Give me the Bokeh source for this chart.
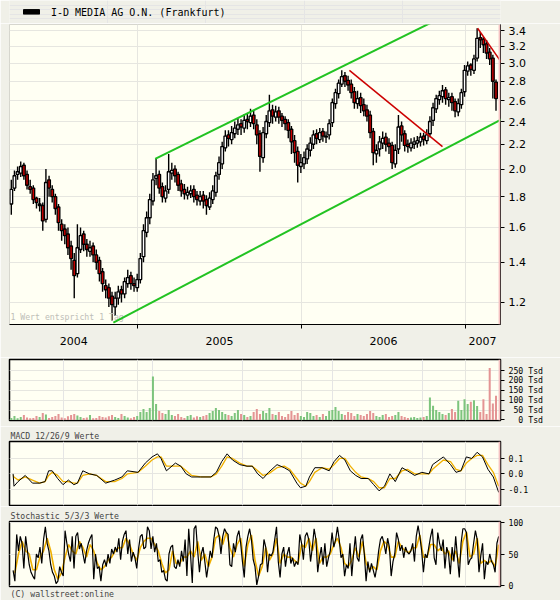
import numpy as np
from bokeh.plotting import figure
from bokeh.layouts import column
from bokeh.models import (Range1d, FixedTicker, CustomJSTickFormatter, Grid, Span, Label,
                          Legend, LegendItem, Arrow, Title, ColumnDataSource)
from bokeh.core.properties import value
from bokeh.embed import file_html
from bokeh.resources import INLINE

# ---------------- data (x = days since 2004-01-01) ----------------
title_text = "I-D MEDIA AG O.N. (Frankfurt)"
year_starts = [366, 731, 1096]
year_label_pos = [224, 548, 913, 1133]
year_labels = ["2004", "2005", "2006", "2007"]
price_ticks = [1.2, 1.4, 1.6, 1.8, 2.0, 2.2, 2.4, 2.6, 2.8, 3.0, 3.2, 3.4]
vol_ticks = [0, 50, 100, 150, 200, 250]
macd_ticks = [-0.1, 0.0, 0.1]
stoch_ticks = [0, 50, 100]

first_week_day = 85
open_ = [1.75,1.86,1.96,1.97,2.03,1.96,1.87,1.86,1.79,1.74,
         1.74,1.65,1.92,1.85,1.80,1.73,1.62,1.59,1.56,1.49,
         1.41,1.34,1.47,1.56,1.50,1.46,1.49,1.44,1.41,1.35,
         1.28,1.27,1.23,1.18,1.22,1.26,1.24,1.29,1.33,1.29,
         1.27,1.31,1.43,1.57,1.66,1.77,1.93,1.96,1.87,1.79,
         1.85,1.97,2.00,1.96,1.89,1.85,1.81,1.82,1.85,1.81,
         1.77,1.81,1.78,1.73,1.78,1.83,1.96,2.04,2.17,2.28,
         2.24,2.29,2.33,2.38,2.34,2.42,2.39,2.46,2.37,2.29,
         2.09,2.29,2.39,2.51,2.44,2.50,2.45,2.42,2.39,2.33,
         2.23,2.14,2.02,2.04,2.08,2.15,2.20,2.29,2.24,2.31,
         2.26,2.28,2.39,2.57,2.67,2.77,2.86,2.81,2.77,2.69,
         2.57,2.63,2.56,2.51,2.46,2.31,2.12,2.16,2.21,2.26,
         2.21,2.19,2.04,2.16,2.36,2.29,2.20,2.17,2.20,2.21,
         2.22,2.27,2.23,2.29,2.41,2.52,2.61,2.64,2.71,2.61,
         2.64,2.59,2.49,2.56,2.69,2.91,2.98,2.92,3.06,3.31,
         3.29,3.23,3.13,3.06,2.79]
close = [1.85,1.95,1.98,2.02,1.95,1.88,1.85,1.78,1.76,1.75,
         1.64,1.90,1.86,1.80,1.72,1.63,1.58,1.55,1.48,1.42,
         1.33,1.48,1.55,1.50,1.47,1.48,1.44,1.40,1.34,1.29,
         1.26,1.22,1.19,1.22,1.25,1.24,1.30,1.32,1.29,1.28,
         1.31,1.42,1.58,1.66,1.78,1.92,1.95,1.86,1.80,1.84,
         1.98,1.99,1.95,1.88,1.84,1.82,1.83,1.84,1.80,1.78,
         1.80,1.77,1.74,1.79,1.84,1.95,2.05,2.18,2.27,2.25,
         2.30,2.34,2.37,2.35,2.41,2.40,2.45,2.38,2.28,2.10,
         2.30,2.40,2.50,2.45,2.49,2.44,2.41,2.38,2.32,2.22,
         2.13,2.03,2.05,2.09,2.16,2.21,2.28,2.25,2.30,2.27,
         2.27,2.38,2.58,2.68,2.78,2.85,2.80,2.76,2.68,2.58,
         2.62,2.55,2.50,2.45,2.30,2.13,2.15,2.22,2.25,2.20,
         2.18,2.05,2.15,2.35,2.28,2.19,2.18,2.21,2.22,2.23,
         2.26,2.24,2.28,2.40,2.53,2.62,2.65,2.70,2.62,2.63,
         2.58,2.50,2.57,2.68,2.92,2.97,2.93,3.05,3.30,3.28,
         3.22,3.12,3.05,2.80,2.62]
high = [1.92,1.99,2.02,2.06,2.05,1.99,1.92,1.88,1.80,1.79,
        1.76,2.00,1.95,1.88,1.82,1.75,1.65,1.62,1.60,1.52,
        1.45,1.62,1.60,1.58,1.53,1.52,1.51,1.47,1.43,1.37,
        1.31,1.29,1.25,1.25,1.28,1.28,1.32,1.36,1.35,1.32,
        1.34,1.45,1.62,1.70,1.82,1.97,2.08,1.99,1.90,1.88,
        2.12,2.05,2.03,1.98,1.92,1.89,1.87,1.88,1.88,1.84,
        1.84,1.84,1.81,1.83,1.88,1.98,2.10,2.22,2.32,2.32,
        2.36,2.40,2.43,2.42,2.47,2.48,2.52,2.50,2.42,2.32,
        2.35,2.46,2.66,2.56,2.55,2.54,2.48,2.45,2.42,2.36,
        2.28,2.18,2.12,2.14,2.20,2.26,2.32,2.33,2.34,2.34,
        2.31,2.42,2.62,2.72,2.82,2.92,2.90,2.86,2.82,2.74,
        2.70,2.68,2.62,2.56,2.50,2.34,2.20,2.27,2.31,2.30,
        2.25,2.22,2.20,2.46,2.40,2.32,2.24,2.25,2.26,2.27,
        2.30,2.30,2.33,2.45,2.58,2.66,2.70,2.76,2.74,2.68,
        2.68,2.62,2.62,2.72,2.98,3.02,3.00,3.10,3.43,3.38,
        3.32,3.28,3.18,3.10,2.82]
low = [1.68,1.84,1.92,1.94,1.92,1.85,1.82,1.75,1.72,1.70,
       1.58,1.63,1.80,1.76,1.68,1.58,1.52,1.50,1.44,1.36,
       1.22,1.32,1.45,1.46,1.43,1.43,1.40,1.36,1.30,1.25,
       1.22,1.18,1.12,1.14,1.19,1.20,1.22,1.27,1.26,1.25,
       1.25,1.29,1.40,1.54,1.62,1.74,1.88,1.82,1.76,1.76,
       1.82,1.92,1.90,1.84,1.80,1.78,1.78,1.79,1.76,1.74,
       1.74,1.72,1.68,1.71,1.75,1.80,1.92,2.00,2.14,2.18,
       2.20,2.25,2.28,2.28,2.30,2.33,2.35,2.33,2.20,1.98,
       2.05,2.25,2.35,2.38,2.40,2.38,2.35,2.32,2.25,2.12,
       2.05,1.90,1.97,2.00,2.04,2.10,2.16,2.20,2.21,2.22,
       2.21,2.24,2.35,2.52,2.62,2.74,2.74,2.70,2.62,2.52,
       2.52,2.48,2.45,2.40,2.25,2.03,2.05,2.10,2.16,2.14,
       2.12,2.00,2.01,2.12,2.22,2.14,2.13,2.14,2.16,2.17,
       2.18,2.19,2.20,2.26,2.36,2.48,2.56,2.58,2.56,2.54,
       2.50,2.44,2.45,2.52,2.64,2.86,2.86,2.88,3.02,3.18,
       3.12,3.05,2.98,2.62,2.50]
volume = [10,20,8,15,25,12,8,10,20,15,
          35,28,10,15,20,30,12,8,18,25,
          30,22,15,10,12,25,8,10,20,15,
          12,18,25,15,10,30,20,12,8,15,
          20,40,55,40,60,220,80,45,35,30,
          50,25,20,30,15,10,20,25,12,18,
          15,20,25,35,45,60,50,40,30,25,
          20,35,50,30,25,15,20,40,55,30,
          45,35,60,30,25,40,20,15,30,45,
          25,35,20,15,40,35,20,25,15,30,
          20,45,50,65,45,30,25,40,35,20,
          30,25,20,30,45,35,20,15,25,30,
          15,20,25,40,20,15,10,12,15,10,
          12,15,20,113,72,50,40,30,25,35,
          55,40,97,50,105,80,92,100,70,40,
          105,30,263,83,122]

# trend lines (day, price)
channel_upper_x = [405, 1117]; channel_upper_y = [2.08, 3.81]
channel_lower_x = [312, 1306]; channel_lower_y = [1.111, 2.724]
trend1_x = [837, 1044]; trend1_y = [2.92, 2.18]
trend2_x = [1122, 1233]; trend2_y = [3.43, 2.61]

macd_days = [89,91,100,116,132,148,160,168,176,188,200,212,224,232,244,259,275,295,315,331,
             343,367,383,398,410,418,430,450,462,474,486,506,529,541,553,565,577,593,609,621,
             633,645,657,676,692,704,720,728,740,748,760,776,792,803,815,827,839,851,863,879,
             891,903,915,927,939,954,966,982,998,1014,1022,1046,1062,1074,1085,1097,1109,1121,1133,1145,
             1157,1169]
macd = [0.0,-0.08,-0.05,-0.01,-0.06,-0.06,-0.05,0.02,0.02,-0.03,
        -0.07,-0.04,-0.07,-0.06,0.02,0.0,-0.01,-0.06,-0.04,-0.02,
        0.02,0.01,0.07,0.11,0.13,0.10,0.02,0.07,0.05,0.0,
        -0.02,-0.02,-0.02,0.01,0.08,0.13,0.09,0.06,0.05,0.05,
        0.0,-0.03,0.01,0.06,0.04,0.02,-0.06,-0.09,-0.08,-0.02,
        0.04,0.04,0.02,0.08,0.12,0.09,0.02,-0.01,-0.03,-0.03,
        -0.07,-0.11,-0.08,0.0,-0.05,0.04,0.02,-0.01,0.01,0.0,
        0.06,0.11,0.06,0.01,0.02,0.11,0.10,0.14,0.11,0.03,
        -0.02,-0.12]
macd_signal = [-0.01,-0.02,-0.04,-0.02,-0.04,-0.06,-0.05,-0.01,0.01,-0.01,
               -0.05,-0.05,-0.06,-0.06,-0.01,0.0,-0.01,-0.05,-0.05,-0.03,
               0.0,0.01,0.05,0.09,0.11,0.11,0.05,0.05,0.05,0.02,
               -0.01,-0.02,-0.02,0.0,0.05,0.11,0.10,0.07,0.05,0.05,
               0.02,-0.01,0.0,0.04,0.05,0.03,-0.03,-0.06,-0.08,-0.05,
               0.01,0.04,0.03,0.06,0.10,0.10,0.05,0.01,-0.02,-0.03,
               -0.05,-0.09,-0.09,-0.03,-0.03,0.02,0.03,0.0,0.0,0.0,
               0.03,0.09,0.08,0.03,0.02,0.07,0.10,0.12,0.12,0.06,
               0.01,-0.08]

stoch_k = [24,7,81,55,78,67,27,78,55,33,21,15,10,50,44,61,35,73,93,67,
           55,33,21,15,3,7,30,21,15,87,67,50,38,78,27,78,84,58,67,50,
           35,55,67,75,81,10,50,27,30,7,33,41,30,50,35,58,50,61,53,75,
           41,70,81,87,50,73,38,53,44,27,58,78,81,58,61,93,87,58,78,53,
           67,38,41,21,24,10,7,50,61,64,30,27,41,30,55,38,73,15,90,50,
           4,90,95,55,21,50,61,38,13,33,55,44,73,93,90,78,50,78,90,84,
           81,33,30,67,53,78,87,67,38,13,61,78,90,73,41,30,1,15,33,35,
           73,61,21,50,47,53,73,93,38,13,50,61,30,50,61,35,44,30,38,33,
           81,67,41,78,84,73,38,61,90,73,21,44,61,33,67,30,44,55,84,61,
           73,93,73,44,50,15,33,27,67,15,50,78,44,38,73,81,50,7,38,21,
           35,24,13,30,55,73,78,67,50,75,61,15,38,50,84,73,55,64,44,61,
           53,50,55,67,38,78,95,78,55,21,50,44,61,78,90,44,33,84,67,55,
           73,27,61,50,18,61,38,78,44,13,67,90,90,84,33,41,44,67,87,73,
           21,47,67,10,38,33,50,38,33,21,67,78]
stoch_d = [20,50,70,55,50,25,25,45,55,75,55,25,10,20,45,65,55,50,70,60,
           45,65,55,35,25,30,40,45,55,60,60,75,65,50,40,60,70,75,75,65,
           55,35,20,25,55,35,35,45,45,55,45,70,40,50,30,45,75,80,65,85,
           60,45,65,75,30,65,80,40,15,30,60,40,50,75,35,50,45,45,40,35,
           65,60,75,55,75,35,45,45,50,65,75,60,35,30,40,60,45,70,35,25,
           30,25,55,70,65,45,45,70,60,55,52,60,60,80,45,45,65,65,55,60,
           50,55,40,55,35,70,85,45,50,75,35,40,35,40,30,65]

# ---------------- styling ----------------
BG = "#F0F0E8"
PLOT_BG = "#FFFFF3"
GRID_C = "#E6E6E0"
MONO = "DejaVu Sans Mono"
SANS = "DejaVu Sans"
GREEN = "#22C322"
RED = "#CC0000"
ORANGE = "#F0B000"
PINK = "#F5C2C2"
W = 560

xr = Range1d(81, 1173)
days = [first_week_day + 7 * i for i in range(len(close))]


def make_fig(height, top, bottom, **kw):
    return figure(width=W, height=height, x_range=xr, output_backend="svg",
                  toolbar_location=None, min_border_left=9, min_border_right=60,
                  min_border_top=top, min_border_bottom=bottom,
                  background_fill_color=PLOT_BG, border_fill_color=BG,
                  y_axis_location="right", **kw)


def style_yaxis(ax, font, size, ticks, code):
    ax.ticker = FixedTicker(ticks=ticks)
    ax.formatter = CustomJSTickFormatter(code=code)
    ax.axis_line_color = "black"
    ax.major_tick_out = 4
    ax.major_tick_in = 0
    ax.minor_tick_out = 0
    ax.minor_tick_in = 0
    ax.major_tick_line_color = "black"
    ax.major_label_text_font = font
    ax.major_label_text_font_size = size
    ax.major_label_text_color = "black"
    ax.major_label_standoff = 4


def add_year_grid(p):
    p.add_layout(Grid(dimension=0, ticker=FixedTicker(ticks=year_starts),
                      grid_line_color=GRID_C))


# ---------------- header with legend ----------------
p0 = figure(width=W, height=23, output_backend="svg", toolbar_location=None,
            x_range=Range1d(0, 1), y_range=Range1d(0, 1),
            x_axis_location=None, y_axis_location=None, min_border=0,
            background_fill_color=BG, border_fill_color=BG, outline_line_color=None)
# legend proxy renderer (kept outside the visible range; only its legend swatch shows)
icon = p0.quad(left=[5], right=[6], top=[6], bottom=[5], fill_color="black", line_color="black")
legend = Legend(items=[LegendItem(label=value(title_text), renderers=[icon])],
                location="left", orientation="horizontal", glyph_width=20, glyph_height=6,
                label_height=10, label_standoff=10, padding=0, margin=12,
                border_line_color=None, background_fill_alpha=0,
                label_text_font=MONO, label_text_font_size="10px", label_text_color="black")
p0.add_layout(legend)

# ---------------- main price chart ----------------
p1 = make_fig(334, 1, 33, y_range=Range1d(1.103, 3.48), y_axis_type="log")
p1.outline_line_color = "#D6D6CE"
style_yaxis(p1.yaxis[0], SANS, "11px", price_ticks, "return tick.toFixed(1)")
p1.ygrid.grid_line_color = GRID_C
xa = p1.xaxis[0]
xa.ticker = FixedTicker(ticks=year_label_pos, minor_ticks=year_starts)
xa.formatter = CustomJSTickFormatter(args=dict(pos=year_label_pos, labs=year_labels),
                                     code="const i = pos.indexOf(tick); return i >= 0 ? labs[i] : '';")
xa.axis_line_color = "black"
xa.major_tick_out = 0
xa.major_tick_in = 0
xa.minor_tick_out = 4
xa.minor_tick_in = 0
xa.minor_tick_line_color = "black"
xa.major_label_text_font = SANS
xa.major_label_text_font_size = "11px"
xa.major_label_text_color = "black"
xa.major_label_standoff = 8
p1.xgrid.ticker = FixedTicker(ticks=year_starts)
p1.xgrid.grid_line_color = GRID_C

p1.add_layout(Label(x=83, y=1.114, text="1 Wert entspricht 1 Tag", text_font=MONO,
                    text_font_size="8.2px", text_color="#BEBEB8", text_baseline="bottom"))

src = ColumnDataSource(dict(
    x=days, high=high, low=low,
    top=[max(o, c) for o, c in zip(open_, close)],
    bottom=[min(o, c) for o, c in zip(open_, close)],
    fill=["white" if c >= o else RED for o, c in zip(open_, close)],
))
p1.segment(x0="x", y0="low", x1="x", y1="high", source=src, line_color="black", line_width=1.4)
p1.vbar(x="x", width=6, top="top", bottom="bottom", source=src, fill_color="fill",
        line_color="black", line_width=1.3)

for xs, ys, col, w in [(channel_upper_x, channel_upper_y, GREEN, 2),
                       (channel_lower_x, channel_lower_y, GREEN, 2),
                       (trend1_x, trend1_y, RED, 1.5),
                       (trend2_x, trend2_y, RED, 1.5)]:
    p1.add_layout(Arrow(end=None, x_start=xs[0], y_start=ys[0], x_end=xs[1], y_end=ys[1],
                        line_color=col, line_width=w))

p1.add_layout(Span(location=1171, dimension="height", line_color=PINK, line_width=2))

# ---------------- volume ----------------
p2 = make_fig(69, 2, 6, y_range=Range1d(-3, 306), x_axis_location=None)
p2.outline_line_color = "black"
p2.outline_line_width = 1.5
style_yaxis(p2.yaxis[0], MONO, "8.2px", vol_ticks,
            "return String(tick).padStart(3, '\\u00a0') + '\\u00a0Tsd'")
p2.ygrid.grid_line_color = GRID_C
add_year_grid(p2)
vol_src = ColumnDataSource(dict(
    x=days, v=volume,
    c=["#7DC47D" if c >= o else "#E49494" for o, c in zip(open_, close)],
))
p2.vbar(x="x", top="v", width=4.5, source=vol_src, fill_color="c", line_color=None)
p2.add_layout(Span(location=1171, dimension="height", line_color=PINK, line_width=2))

# ---------------- MACD ----------------
p3 = make_fig(80, 15, 1, y_range=Range1d(-0.205, 0.21), x_axis_location=None,
              title="MACD 12/26/9 Werte")
p3.outline_line_color = "black"
p3.outline_line_width = 1.5
p3.title.text_font = MONO
p3.title.text_font_size = "8.2px"
p3.title.text_font_style = "normal"
p3.title.standoff = 2
p3.title.offset = 1
style_yaxis(p3.yaxis[0], MONO, "8.2px", macd_ticks, "return tick.toFixed(1)")
p3.ygrid.grid_line_color = GRID_C
add_year_grid(p3)
p3.line(macd_days, macd_signal, line_color=ORANGE, line_width=1.3)
p3.line(macd_days, macd, line_color="black", line_width=1)
p3.add_layout(Span(location=1171, dimension="height", line_color=PINK, line_width=2))

# ---------------- Stochastic ----------------
p4 = make_fig(94, 15, 14, y_range=Range1d(-1.5, 101.5), x_axis_location=None,
              title="Stochastic 5/3/3 Werte")
p4.outline_line_color = "black"
p4.outline_line_width = 1.5
p4.title.text_font = MONO
p4.title.text_font_size = "8.2px"
p4.title.text_font_style = "normal"
p4.title.standoff = 2
p4.title.offset = 1
style_yaxis(p4.yaxis[0], MONO, "8.2px", stoch_ticks, "return String(tick)")
p4.ygrid.grid_line_color = GRID_C
add_year_grid(p4)
k_x = np.linspace(89, 1169, len(stoch_k))
d_x = np.linspace(93, 1169, len(stoch_d))
p4.line(d_x, stoch_d, line_color=ORANGE, line_width=1.6)
p4.line(k_x, stoch_k, line_color="black", line_width=1.2)
p4.add_layout(Span(location=1171, dimension="height", line_color=PINK, line_width=2))
p4.add_layout(Title(text="(C) wallstreet:online", text_font=MONO, text_font_size="8.2px",
                    text_font_style="normal", standoff=1, offset=1), "below")

layout = column(p0, p1, p2, p3, p4, spacing=0)

open("out.html", "w").write(file_html(layout, INLINE))
